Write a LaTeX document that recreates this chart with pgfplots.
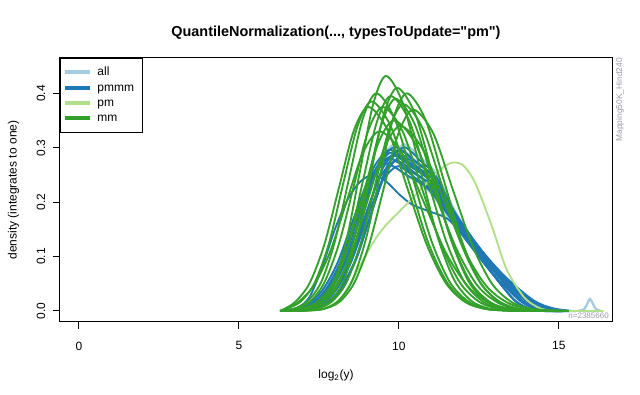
\documentclass[border=0pt]{standalone}
\usepackage{pgfplots}
\pgfplotsset{compat=1.18}
\usepackage{fontspec}
\setmainfont{Liberation Sans}
\definecolor{cAll}{HTML}{A6CEE3}
\definecolor{cPmmm}{HTML}{1F78B4}
\definecolor{cPm}{HTML}{B2DF8A}
\definecolor{cMm}{HTML}{33A02C}
\definecolor{cNote}{HTML}{9A9AAA}
\newcommand{\sq}{\XeTeXglyph\XeTeXglyphindex "quotedbl"\relax}
\begin{document}
\begin{tikzpicture}
\path[use as bounding box] (0,0) rectangle (480pt,296.25pt);
\begin{axis}[
  at={(45pt,54.75pt)}, anchor=south west,
  scale only axis, width=414pt, height=198pt,
  xmin=-0.59, xmax=16.66, ymin=-0.0203, ymax=0.465,
  axis line style={line width=0.75pt},
  xtick={0,5,10,15}, ytick={0,0.1,0.2,0.3,0.4},
  xticklabels={0,5,10,15}, yticklabels={0.0,0.1,0.2,0.3,0.4},
  xtick pos=bottom, ytick pos=left,
  tick align=outside, major tick length=5.25pt,
  tick style={line width=0.75pt, black},
  ticklabel style={font=\fontsize{9pt}{10.8pt}\selectfont},
  /pgf/number format/assume math mode=true,
  xticklabel style={anchor=north},
  yticklabel style={rotate=90, anchor=south},
  xticklabel shift=6pt, yticklabel shift=2.25pt,
  every axis plot/.append style={line width=1.4pt, smooth},
  legend style={at={(rel axis cs:0,1)}, anchor=north west, draw=black, line width=0.75pt,
    fill=white, inner xsep=2pt, inner ysep=6pt, row sep=2.6pt,
    font=\fontsize{9pt}{10.9pt}\selectfont,
    nodes={inner xsep=4pt, inner ysep=0pt, text height=6.9pt, text depth=2pt}},
  legend cell align=left,
  legend image code/.code={\draw[line width=3pt] (0pt,0pt) -- (18.75pt,0pt);},
]
% ---- all (light blue) ----
\addplot[cAll] coordinates {(6.5,0)(6.95,0.003)(7.43,0.013)(7.90,0.041)(8.38,0.097)(8.85,0.182)(9.33,0.268)(9.80,0.305)(10.11,0.298)(10.42,0.282)(11.04,0.248)(11.76,0.176)(12.58,0.106)(13.20,0.061)(13.92,0.018)(14.44,0.004)(14.95,0)(15.6,0)(15.8,0.004)(15.9,0.015)(15.97,0.022)(16.05,0.015)(16.15,0.004)(16.3,0)};
\addlegendentry{all}
\addplot[cAll, forget plot] coordinates {(6.3,0)(6.65,0.003)(7.13,0.012)(7.60,0.037)(8.08,0.088)(8.55,0.164)(9.03,0.238)(9.50,0.270)(9.85,0.265)(10.21,0.250)(10.92,0.221)(11.74,0.157)(12.69,0.095)(13.39,0.055)(14.22,0.017)(14.81,0.004)(15.40,0)(15.6,0)(15.8,0.004)(15.9,0.015)(15.97,0.022)(16.05,0.015)(16.15,0.004)(16.3,0)};
\addplot[cAll, forget plot] coordinates {(6.8,0)(7.25,0.003)(7.73,0.013)(8.20,0.041)(8.68,0.097)(9.15,0.182)(9.63,0.268)(10.10,0.305)(10.36,0.300)(10.62,0.285)(11.14,0.255)(11.75,0.185)(12.45,0.115)(12.97,0.069)(13.58,0.023)(14.02,0.006)(14.45,0)(15.6,0)(15.8,0.004)(15.9,0.015)(15.97,0.022)(16.05,0.015)(16.15,0.004)(16.3,0)};
\addplot[cAll, forget plot] coordinates {(6.3,0)(6.75,0.003)(7.23,0.012)(7.70,0.038)(8.18,0.091)(8.65,0.170)(9.13,0.247)(9.60,0.282)(9.94,0.276)(10.28,0.262)(10.96,0.228)(11.80,0.160)(12.70,0.098)(13.38,0.057)(14.17,0.017)(14.74,0.004)(15.30,0)(15.6,0)(15.8,0.004)(15.9,0.015)(15.97,0.022)(16.05,0.015)(16.15,0.004)(16.3,0)};
% ---- pmmm (blue) ----
\addplot[cPmmm] coordinates {(6.50,0)(6.95,0.003)(7.43,0.013)(7.90,0.041)(8.38,0.097)(8.85,0.182)(9.33,0.265)(9.80,0.300)(10.11,0.294)(10.42,0.279)(11.04,0.249)(11.76,0.180)(12.58,0.111)(13.20,0.066)(13.92,0.021)(14.44,0.005)(14.95,0)(15.2,0)};
\addlegendentry{pmmm}
\addplot[cPmmm, forget plot] coordinates {(6.40,0)(6.85,0.003)(7.33,0.013)(7.80,0.039)(8.28,0.094)(8.75,0.176)(9.23,0.256)(9.70,0.290)(10.02,0.284)(10.35,0.270)(11.00,0.241)(11.75,0.174)(12.62,0.107)(13.26,0.064)(14.02,0.020)(14.56,0.005)(15.10,0)(15.2,0)};
\addplot[cPmmm, forget plot] coordinates {(6.65,0)(7.10,0.003)(7.58,0.013)(8.05,0.040)(8.53,0.096)(9.00,0.179)(9.48,0.260)(9.95,0.295)(10.24,0.289)(10.52,0.274)(11.09,0.245)(11.76,0.177)(12.52,0.109)(13.09,0.065)(13.75,0.021)(14.23,0.005)(14.70,0)(15.2,0)};
\addplot[cPmmm, forget plot] coordinates {(6.30,0)(6.75,0.003)(7.23,0.012)(7.70,0.038)(8.18,0.091)(8.65,0.170)(9.13,0.247)(9.60,0.280)(9.94,0.274)(10.28,0.260)(10.96,0.232)(11.75,0.168)(12.65,0.104)(13.33,0.062)(14.12,0.020)(14.69,0.005)(15.25,0)};
\addplot[cPmmm, forget plot] coordinates {(6.75,0)(7.20,0.003)(7.68,0.013)(8.15,0.039)(8.63,0.093)(9.10,0.173)(9.58,0.252)(10.05,0.285)(10.32,0.279)(10.58,0.265)(11.12,0.237)(11.74,0.171)(12.45,0.105)(12.99,0.063)(13.61,0.020)(14.06,0.005)(14.50,0)(15.2,0)};
\addplot[cPmmm, forget plot] coordinates {(6.55,0)(7.00,0.003)(7.48,0.012)(7.95,0.037)(8.43,0.089)(8.90,0.167)(9.38,0.243)(9.85,0.275)(10.15,0.270)(10.45,0.256)(11.05,0.228)(11.75,0.165)(12.55,0.102)(13.15,0.061)(13.85,0.019)(14.35,0.005)(14.85,0)(15.2,0)};
\addplot[cPmmm, forget plot] coordinates {(6.30,0)(6.65,0.003)(7.13,0.012)(7.60,0.037)(8.08,0.088)(8.55,0.164)(9.03,0.238)(9.50,0.270)(9.85,0.265)(10.21,0.251)(10.92,0.224)(11.74,0.162)(12.69,0.100)(13.39,0.059)(14.22,0.019)(14.81,0.005)(15.40,0)};
\addplot[cPmmm, forget plot] coordinates {(6.80,0)(7.25,0.003)(7.73,0.013)(8.20,0.041)(8.68,0.097)(9.15,0.182)(9.63,0.265)(10.10,0.300)(10.36,0.294)(10.62,0.279)(11.14,0.249)(11.75,0.180)(12.45,0.111)(12.97,0.066)(13.58,0.021)(14.02,0.005)(14.45,0)(15.2,0)};
\addplot[cPmmm, forget plot] coordinates {(6.45,0)(6.90,0.003)(7.38,0.013)(7.85,0.039)(8.33,0.093)(8.80,0.173)(9.28,0.252)(9.75,0.285)(10.07,0.279)(10.38,0.265)(11.01,0.237)(11.75,0.171)(12.59,0.105)(13.22,0.063)(13.95,0.020)(14.48,0.005)(15.00,0)(15.2,0)};
\addplot[cPmmm, forget plot] coordinates {(6.60,0)(7.05,0.003)(7.53,0.012)(8.00,0.036)(8.48,0.086)(8.95,0.161)(9.43,0.234)(9.90,0.265)(10.19,0.260)(10.48,0.246)(11.06,0.220)(11.74,0.159)(12.52,0.098)(13.10,0.058)(13.78,0.019)(14.27,0.005)(14.75,0)(15.2,0)};
\addplot[cPmmm, forget plot] coordinates {(6.3,0)(6.8,0.005)(7.2,0.025)(7.6,0.08)(8.0,0.15)(8.4,0.205)(8.8,0.238)(9.2,0.250)(9.6,0.238)(10.0,0.215)(10.4,0.196)(10.9,0.184)(11.5,0.170)(12.1,0.135)(12.7,0.095)(13.3,0.055)(13.9,0.022)(14.4,0.006)(14.9,0)(15.2,0)};
\addplot[cPmmm, forget plot] coordinates {(6.35,0)(6.80,0.003)(7.28,0.013)(7.75,0.040)(8.23,0.096)(8.70,0.179)(9.18,0.260)(9.65,0.295)(9.98,0.289)(10.31,0.274)(10.97,0.245)(11.74,0.177)(12.62,0.109)(13.28,0.065)(14.05,0.021)(14.60,0.005)(15.15,0)(15.2,0)};
% ---- pm (light green) ----
\addplot[cPm] coordinates {(6.9,0)(7.5,0.002)(7.8,0.008)(8.16,0.022)(8.5,0.052)(8.8,0.085)(9.25,0.131)(9.6,0.158)(10.0,0.182)(10.5,0.212)(11.0,0.243)(11.4,0.265)(11.7,0.273)(12.0,0.268)(12.3,0.245)(12.53,0.215)(12.94,0.150)(13.37,0.076)(13.9,0.026)(14.3,0.008)(14.6,0.002)(15.2,0)(16.4,0)};
\addlegendentry{pm}
% ---- mm (green) ----
\addplot[cMm] coordinates {(6.4,0)(6.8,0.001)(7.2,0.005)(7.6,0.019)(8.0,0.058)(8.4,0.140)(8.8,0.262)(9.2,0.381)(9.6,0.432)(10.13,0.381)(10.66,0.262)(11.19,0.140)(11.72,0.058)(12.25,0.019)(12.78,0.005)(13.31,0.001)(13.84,0)(15.3,0)};
\addlegendentry{mm}
\addplot[cMm, forget plot] coordinates {(6.59,0)(7.01,0.001)(7.43,0.005)(7.85,0.018)(8.27,0.055)(8.69,0.133)(9.11,0.249)(9.53,0.362)(9.95,0.410)(10.51,0.362)(11.06,0.249)(11.62,0.133)(12.17,0.055)(12.73,0.018)(13.28,0.005)(13.84,0.001)(14.39,0)(15.3,0)};
\addplot[cMm, forget plot] coordinates {(6.81,0)(7.24,0.001)(7.67,0.004)(8.10,0.018)(8.53,0.054)(8.96,0.130)(9.39,0.243)(9.82,0.353)(10.25,0.400)(10.82,0.353)(11.39,0.243)(11.96,0.130)(12.53,0.054)(13.10,0.018)(13.67,0.004)(14.24,0.001)(14.81,0)(15.3,0)};
\addplot[cMm, forget plot] coordinates {(6.3,0)(6.48,0.004)(6.93,0.017)(7.37,0.052)(7.82,0.125)(8.26,0.234)(8.71,0.340)(9.15,0.385)(9.74,0.340)(10.33,0.234)(10.92,0.125)(11.51,0.052)(12.10,0.017)(12.69,0.004)(13.28,0.001)(14.0,0)(15.3,0)};
\addplot[cMm, forget plot] coordinates {(6.3,0)(6.71,0.001)(7.14,0.004)(7.58,0.017)(8.01,0.053)(8.45,0.128)(8.88,0.240)(9.32,0.349)(9.75,0.395)(10.33,0.349)(10.90,0.240)(11.48,0.128)(12.05,0.053)(12.63,0.017)(13.20,0.004)(13.78,0.001)(14.35,0)(15.3,0)};
\addplot[cMm, forget plot] coordinates {(6.28,0)(6.74,0.004)(7.20,0.016)(7.66,0.051)(8.12,0.122)(8.58,0.227)(9.04,0.331)(9.50,0.375)(10.11,0.331)(10.71,0.227)(11.32,0.122)(11.92,0.051)(12.53,0.016)(13.13,0.004)(13.74,0.001)(14.35,0)(15.3,0)};
\addplot[cMm, forget plot] coordinates {(6.8,0)(7.20,0.001)(7.66,0.004)(8.13,0.016)(8.59,0.050)(9.06,0.120)(9.52,0.224)(9.99,0.327)(10.45,0.370)(11.07,0.327)(11.68,0.224)(12.30,0.120)(12.91,0.050)(13.53,0.016)(14.14,0.004)(14.76,0.001)(15.3,0)};
\addplot[cMm, forget plot] coordinates {(6.29,0)(6.75,0.016)(7.21,0.051)(7.67,0.122)(8.13,0.227)(8.59,0.331)(9.05,0.375)(9.66,0.331)(10.26,0.227)(10.87,0.122)(11.47,0.051)(12.08,0.016)(12.68,0.004)(13.29,0.001)(13.9,0)(15.3,0)};
\addplot[cMm, forget plot] coordinates {(6.42,0)(6.91,0.004)(7.40,0.015)(7.89,0.047)(8.38,0.114)(8.87,0.212)(9.36,0.309)(9.85,0.350)(10.50,0.309)(11.15,0.212)(11.80,0.114)(12.45,0.047)(13.10,0.015)(13.75,0.004)(14.40,0.001)(15.0,0)(15.3,0)};
\addplot[cMm, forget plot] coordinates {(6.52,0)(7.02,0.004)(7.53,0.015)(8.03,0.046)(8.54,0.110)(9.04,0.206)(9.55,0.300)(10.05,0.340)(10.72,0.300)(11.39,0.206)(12.06,0.110)(12.73,0.046)(13.40,0.015)(14.07,0.004)(14.74,0.001)(15.3,0)};
\addplot[cMm, forget plot] coordinates {(6.28,0)(6.80,0.014)(7.32,0.045)(7.84,0.107)(8.36,0.200)(8.88,0.291)(9.40,0.330)(10.09,0.291)(10.78,0.200)(11.47,0.107)(12.16,0.045)(12.85,0.014)(13.54,0.004)(14.23,0.001)(14.9,0)(15.3,0)};
\addplot[cMm, forget plot] coordinates {(6.55,0)(7.00,0.001)(7.45,0.004)(7.90,0.017)(8.35,0.051)(8.80,0.123)(9.25,0.230)(9.70,0.335)(10.15,0.380)(10.75,0.335)(11.35,0.230)(11.95,0.123)(12.55,0.051)(13.15,0.017)(13.75,0.004)(14.35,0.001)(15.0,0)(15.3,0)};
\addplot[cMm, forget plot] coordinates {(6.29,0)(6.72,0.004)(7.15,0.018)(7.58,0.054)(8.01,0.130)(8.44,0.243)(8.87,0.353)(9.30,0.400)(9.87,0.353)(10.44,0.243)(11.01,0.130)(11.58,0.054)(12.15,0.018)(12.72,0.004)(13.29,0.001)(13.9,0)(15.3,0)};
\addplot[cMm, forget plot] coordinates {(6.38,0)(6.82,0.001)(7.26,0.004)(7.70,0.017)(8.14,0.053)(8.58,0.127)(9.02,0.237)(9.46,0.344)(9.90,0.390)(10.49,0.344)(11.07,0.237)(11.66,0.127)(12.24,0.053)(12.83,0.017)(13.41,0.004)(14.00,0.001)(14.6,0)(15.3,0)};
\end{axis}
\node[font=\bfseries\fontsize{10.8pt}{13pt}\selectfont, anchor=base] at (252pt,268.5pt) {QuantileNormalization(..., typesToUpdate=\sq pm\sq)};
\node[font=\fontsize{9pt}{10.8pt}\selectfont, anchor=base] at (252pt,12pt) {log\textsubscript{2}(y)};
\node[font=\fontsize{9pt}{10.8pt}\selectfont, rotate=90, anchor=base] at (12.4pt,153.75pt) {density (integrates to one)};
\node[font=\fontsize{6.3pt}{7pt}\selectfont, text=cNote, rotate=90, anchor=base east, inner sep=0pt] at (466.5pt,252.75pt) {Mapping50K\_Hind240};
\node[font=\fontsize{6pt}{7pt}\selectfont, text=cNote, anchor=base east, inner sep=0pt] at (456.75pt,57pt) {n=2385660};
\end{tikzpicture}
\end{document}
